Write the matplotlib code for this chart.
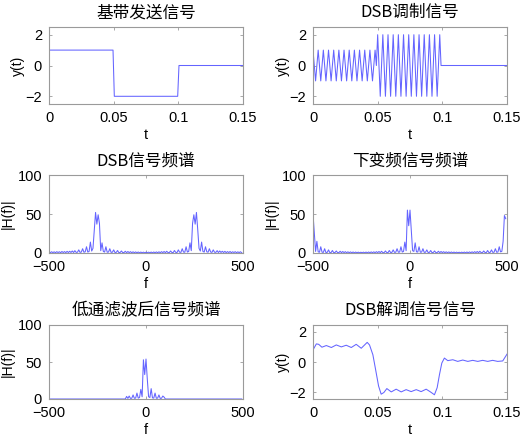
import numpy as np
import matplotlib
matplotlib.use("Agg")
import matplotlib.pyplot as plt

plt.rcParams['font.family'] = ['Liberation Sans', 'Noto Sans CJK SC', 'DejaVu Sans']

# ---------------- data ----------------
titles = ['基带发送信号', 'DSB调制信号', 'DSB信号频谱', '下变频信号频谱', '低通滤波后信号频谱', 'DSB解调信号信号']

# baseband (t, y) vertices
base_t = [0, 0.0495, 0.0505, 0.0995, 0.1005, 0.15]
base_y = [1, 1, -2, -2, 0, 0]

# DSB modulated signal, samples every 1 ms (0 .. 0.15 s)
dsb_step = 0.001
dsb_vals = ([1, 0, -1, 0] * 12 + [1, 0] +
            [2, 0, -2, 0] * 12 + [2, 0] +
            [0] * 51)

# spectra, frequency bins of 1000/150 Hz starting at -500 Hz
bin_width = 1000 / 150
f_start = -500

dsb_spec = [
    1.4, 0.4, 1.6, 0.5, 1.5, 0.4, 1.7, 0.6, 1.6, 0.4,
    1.9, 0.6, 1.8, 0.5, 2.1, 0.6, 2.2, 0.7, 2.6, 0.6,
    3.0, 0.8, 1.0, 4.0, 0.8, 1.2, 5.5, 1.0, 1.5, 8.0,
    1.2, 2.0, 14, 2.5, 6, 30, 52, 37, 49, 38,
    3, 13, 2, 1.2, 8, 1.0, 1.2, 5.5, 0.8, 1.0,
    4.0, 0.6, 0.8, 3.2, 0.5, 0.7, 2.6, 0.5, 0.6, 2.2,
    0.4, 1.9, 0.5, 1.7, 0.4, 1.5, 0.4, 1.4, 0.3, 1.3,
    0.3, 1.2, 0.3, 1.1, 0.3, 1.0, 0.3, 1.1, 0.3, 1.2,
    0.3, 1.3, 0.3, 1.4, 0.4, 1.5, 0.4, 1.7, 0.5, 1.9,
    0.4, 2.2, 0.6, 0.5, 2.6, 0.7, 0.5, 3.2, 0.8, 0.6,
    4.0, 1.0, 0.8, 5.5, 1.2, 1.0, 8.0, 1.2, 2, 13,
    3, 38, 49, 37, 52, 30, 6, 2.5, 14, 2.0,
    1.2, 8.0, 1.5, 1.0, 5.5, 1.2, 0.8, 4.0, 1.0, 0.8,
    3.0, 0.6, 2.6, 0.7, 2.2, 0.6, 2.1, 0.5, 1.8, 0.6,
    1.9, 0.4, 1.6, 0.6, 1.7, 0.4, 1.5, 0.5, 1.6, 0.4,
]

down_spec = [
    50, 25, 2, 15, 1.5, 1.0, 8, 1.0, 0.8, 5.5,
    0.6, 0.8, 4.0, 0.5, 0.6, 3.2, 0.5, 0.6, 2.6, 0.5,
    0.5, 2.2, 0.4, 1.9, 0.5, 1.7, 0.4, 1.5, 0.4, 1.4,
    0.3, 1.3, 0.3, 1.2, 0.3, 1.1, 0.3, 1.0, 0.3, 1.1,
    0.3, 1.2, 0.3, 1.3, 0.3, 1.4, 0.4, 1.5, 0.4, 1.7,
    0.5, 1.9, 0.4, 2.2, 0.5, 0.5, 2.6, 0.6, 0.5, 3.2,
    0.6, 0.8, 4.0, 0.8, 1.0, 5.5, 1.0, 1.2, 8, 1.2,
    2.0, 14, 3, 55, 35, 55, 28, 3, 2, 13,
    1.5, 1.2, 8, 1.0, 1.2, 5.5, 0.8, 1.0, 4.0, 0.6,
    0.8, 3.2, 0.5, 0.7, 2.6, 0.5, 0.6, 2.2, 0.4, 1.9,
    0.5, 1.7, 0.4, 1.5, 0.4, 1.4, 0.3, 1.3, 0.3, 1.2,
    0.3, 1.1, 0.3, 1.0, 0.3, 1.1, 0.3, 1.2, 0.3, 1.3,
    0.3, 1.4, 0.4, 1.5, 0.4, 1.7, 0.5, 1.9, 0.4, 2.2,
    0.5, 0.5, 2.6, 0.6, 0.5, 3.2, 0.6, 0.8, 4.0, 0.8,
    1.0, 5.5, 1.0, 1.2, 8, 1.5, 2, 15, 48, 44,
]

lp_spec = ([0] * 60 + [
    3.5, 0.8, 4.0, 0.8, 1.0, 5.5, 1.0, 1.2, 8, 1.2,
    2.0, 13, 3, 53, 33, 54, 27, 3, 2, 14,
    1.5, 1.2, 8, 1.0, 1.2, 5.5, 0.8, 1.0, 4.0, 2.5,
] + [0] * 60)

# demodulated signal (t, y)
demod_t = [0.0, 0.0026, 0.0044, 0.0069, 0.0103, 0.0142, 0.0180, 0.0219, 0.0257,
           0.0296, 0.0334, 0.0373, 0.0419, 0.0437, 0.0463, 0.0484, 0.0507, 0.0527,
           0.0548, 0.0571, 0.0605, 0.0643, 0.0682, 0.0720, 0.0759, 0.0798, 0.0836,
           0.0875, 0.0908, 0.0939, 0.0960, 0.0978, 0.0996, 0.1016, 0.1042, 0.1081,
           0.1119, 0.1158, 0.1197, 0.1235, 0.1274, 0.1312, 0.1351, 0.1389, 0.1428,
           0.1467, 0.15]
demod_y = [0.80, 1.20, 1.17, 0.98, 1.09, 0.96, 1.13, 1.00, 1.11,
           0.96, 1.17, 0.91, 1.30, 1.13, 0.48, -0.50, -1.59, -2.13,
           -2.02, -1.76, -1.98, -1.80, -1.98, -1.83, -1.96, -1.83, -1.96,
           -1.80, -1.98, -2.17, -1.70, -0.83, -0.07, 0.26, 0.09, 0.15,
           0.04, 0.13, 0.04, 0.11, 0.04, 0.11, 0.04, 0.11, 0.04,
           0.07, 0.52]

t_ticks = [0, 0.05, 0.1, 0.15]
t_ticklabels = ['0', '0.05', '0.1', '0.15']
f_ticks = [-500, 0, 500]
y_ticks_t = [-2, 0, 2]
y_ticks_f = [0, 50, 100]

# ---------------- figure ----------------
W, H = 522, 438
fig = plt.figure(figsize=(W / 100, H / 100), dpi=100)

def px_axes(x0, y0, x1, y1):
    return fig.add_axes([x0 / W, 1 - y1 / H, (x1 - x0) / W, (y1 - y0) / H])

cols = [(49, 243), (313, 507)]
rows = [(27, 104), (175, 253), (325, 399)]

line_color = '#6464ff'
lw = 0.75
spine_c = '#9a9a9a'
tick_fs = 10.5
label_fs = 10
title_font = ['Noto Sans CJK SC', 'DejaVu Sans']

axes = []
for r in rows:
    for c in cols:
        axes.append(px_axes(c[0], r[0], c[1], r[1]))

def style(ax, title, xlabel, ylabel, ylab_x):
    for s in ax.spines.values():
        s.set_color(spine_c)
        s.set_linewidth(0.8)
    ax.tick_params(direction='in', length=2.5, width=0.6, colors=spine_c,
                   labelcolor='black', labelsize=tick_fs, top=True, right=True, pad=5)
    ax.set_title(title, fontsize=12, family=title_font, pad=7)
    ax.set_xlabel(xlabel, fontsize=label_fs + 0.5, labelpad=2.5)
    ax.set_ylabel(ylabel, fontsize=label_fs)
    ax.yaxis.set_label_coords(ylab_x, 0.5)

# 1 baseband
ax = axes[0]
ax.plot(base_t, base_y, color=line_color, lw=lw)
ax.set_xlim(0, 0.15); ax.set_ylim(-2.5, 2.5)
ax.set_xticks(t_ticks); ax.set_xticklabels(t_ticklabels); ax.set_yticks(y_ticks_t)
style(ax, titles[0], 't', 'y(t)', -0.124)

# 2 DSB modulated
ax = axes[1]
t_dsb = np.arange(len(dsb_vals)) * dsb_step
ax.plot(t_dsb, dsb_vals, color=line_color, lw=lw)
ax.set_xlim(0, 0.15); ax.set_ylim(-2.5, 2.5)
ax.set_xticks(t_ticks); ax.set_xticklabels(t_ticklabels); ax.set_yticks(y_ticks_t)
style(ax, titles[1], 't', 'y(t)', -0.119)

# 3-5 spectra
specs = [dsb_spec, down_spec, lp_spec]
ylx = [-0.178, -0.178, -0.178]
for i, spec in enumerate(specs):
    ax = axes[2 + i]
    f = f_start + np.arange(len(spec)) * bin_width
    ax.plot(f, spec, color=line_color, lw=lw)
    ax.set_xlim(-500, 500); ax.set_ylim(0, 100)
    ax.set_xticks(f_ticks); ax.set_yticks(y_ticks_f)
    style(ax, titles[2 + i], 'f', '|H(f)|', ylx[i])

# 6 demodulated
ax = axes[5]
ax.plot(demod_t, demod_y, color=line_color, lw=lw)
ax.set_xlim(0, 0.15); ax.set_ylim(-2.45, 2.45)
ax.set_xticks(t_ticks); ax.set_xticklabels(t_ticklabels); ax.set_yticks(y_ticks_t)
style(ax, titles[5], 't', 'y(t)', -0.119)

fig.savefig('out.png', dpi=100)
